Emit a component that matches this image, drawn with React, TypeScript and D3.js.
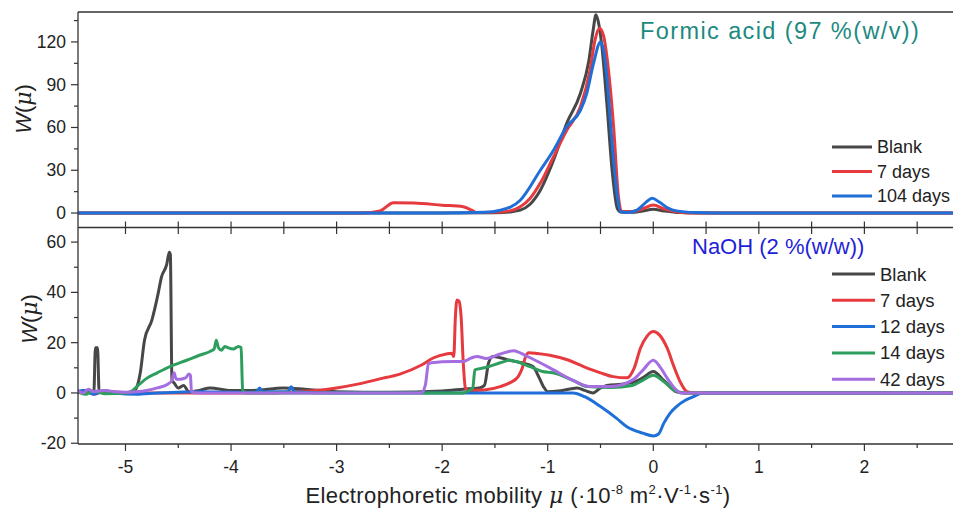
import React from "react";
import * as d3 from "d3";

type Pt = [number, number];

// ---------- Top panel: Formic acid (97 %(w/v)) ----------
const topBlank: Pt[] = [
  [-5.45, 0], [-2.0, 0], [-1.5, 0.2], [-1.36, 0.8], [-1.26, 2], [-1.17, 6], [-1.07, 16], [-0.945, 37],
  [-0.82, 63], [-0.69, 84], [-0.61, 107], [-0.57, 128], [-0.543, 139], [-0.515, 132], [-0.49, 119],
  [-0.44, 77], [-0.39, 30], [-0.34, 3], [-0.3, 0.5], [-0.2, 0.5], [-0.1, 1.5], [0, 2.6], [0.1, 1.5],
  [0.25, 0.3], [0.4, 0], [2.83, 0],
];
const topD7: Pt[] = [
  [-5.45, 0], [-2.75, 0], [-2.59, 1.5], [-2.46, 7.2], [-2.27, 7], [-2.0, 5.5], [-1.8, 4.4], [-1.72, 2],
  [-1.67, 0.3], [-1.5, 0.5], [-1.36, 1.5], [-1.26, 4.4], [-1.17, 10], [-1.07, 21], [-0.945, 39.5],
  [-0.82, 58], [-0.69, 74.6], [-0.6, 100], [-0.55, 122], [-0.51, 129.6], [-0.47, 124], [-0.44, 110],
  [-0.376, 60.6], [-0.33, 11.5], [-0.3, 1], [-0.2, 1], [-0.1, 3], [0, 5.6], [0.1, 3], [0.25, 0.6],
  [0.4, 0], [2.83, 0],
];
const topD104: Pt[] = [
  [-5.45, 0], [-2.0, 0], [-1.6, 0.5], [-1.45, 2], [-1.26, 9], [-1.07, 30], [-0.945, 44], [-0.82, 60.6],
  [-0.69, 72], [-0.63, 84], [-0.566, 105], [-0.5, 120], [-0.47, 114], [-0.44, 95.7], [-0.39, 49],
  [-0.34, 11.5], [-0.31, 1], [-0.25, 0.3], [-0.155, 2], [-0.07, 7.5], [-0.01, 10.3], [0.06, 7.5],
  [0.14, 3.5], [0.22, 1.5], [0.4, 0.3], [0.6, 0], [2.83, 0],
];

// ---------- Bottom panel: NaOH (2 %(w/w)) ----------
const botBlank: Pt[] = [
  [-5.45, 0.5], [-5.38, 1], [-5.3, 0.3], [-5.285, 18], [-5.265, 18], [-5.25, 0.5], [-5.1, 0.3],
  [-4.95, 0.2], [-4.91, 1], [-4.86, 8], [-4.82, 21], [-4.75, 29], [-4.69, 39.7], [-4.66, 46],
  [-4.61, 51], [-4.585, 56], [-4.575, 55], [-4.56, 5], [-4.54, 4], [-4.5, 2], [-4.45, 3], [-4.4, 0.5],
  [-4.3, 1], [-4.2, 2], [-4.0, 1], [-3.8, 1], [-3.5, 2], [-3.3, 1.5], [-3.0, 0.5], [-2.5, 0.3],
  [-2.0, 0.8], [-1.8, 1.5], [-1.65, 2], [-1.6, 3], [-1.56, 12], [-1.52, 14.5], [-1.45, 14],
  [-1.36, 13], [-1.25, 12], [-1.14, 10.5], [-1.08, 6], [-1.04, 2.5], [-1.0, 0.5], [-0.9, 0.8],
  [-0.8, 1.5], [-0.72, 2], [-0.65, 1], [-0.57, 0], [-0.5, 2], [-0.44, 3], [-0.3, 3.5], [-0.19, 4.2],
  [-0.1, 6], [0, 8.5], [0.1, 5], [0.22, 0.5], [0.3, 0], [2.83, 0],
];
const botD7: Pt[] = [
  [-5.45, 0], [-5.38, 1], [-5.3, -0.5], [-5.2, 0.5], [-5.0, 0], [-3.6, 0], [-3.4, 0.5], [-3.2, 1],
  [-3.0, 2], [-2.8, 3.5], [-2.6, 5.5], [-2.4, 7.5], [-2.2, 11], [-2.08, 14], [-1.96, 15.5],
  [-1.91, 15.8], [-1.89, 14.5], [-1.875, 30], [-1.86, 37], [-1.84, 36.5], [-1.82, 30], [-1.8, 12],
  [-1.78, 2], [-1.75, 1], [-1.6, 1.2], [-1.45, 2.5], [-1.36, 4], [-1.28, 6.5], [-1.24, 10],
  [-1.21, 14.4], [-1.18, 16], [-1.1, 15.7], [-0.98, 15], [-0.8, 13], [-0.66, 10.5], [-0.5, 8],
  [-0.38, 6.5], [-0.25, 6], [-0.18, 10], [-0.12, 18], [-0.06, 22.5], [0, 24.4], [0.06, 23],
  [0.13, 18], [0.2, 10], [0.26, 4], [0.32, 0.5], [0.4, 0], [2.83, 0],
];
const botD12: Pt[] = [
  [-5.45, 0.5], [-5.4, 1], [-5.3, -0.5], [-5.2, 1], [-5.1, 0], [-4.9, -0.5], [-4.7, 0], [-4.5, 0.3],
  [-4.3, 0.5], [-4.0, 0.3], [-3.76, 0.3], [-3.73, 2], [-3.7, 0.5], [-3.46, 0.5], [-3.43, 2.5],
  [-3.4, 0.5], [-3.0, 0], [-0.76, 0], [-0.65, -1.5], [-0.5, -5.4], [-0.35, -10], [-0.25, -13.4],
  [-0.1, -16], [0, -17.1], [0.05, -16.3], [0.1, -12], [0.16, -8], [0.22, -5.4], [0.3, -3],
  [0.38, -1.5], [0.47, 0], [2.83, 0],
];
const botD14: Pt[] = [
  [-5.45, 0.5], [-5.38, -0.5], [-5.3, 0.8], [-5.2, -0.3], [-5.0, 0], [-4.95, 0.5], [-4.88, 3],
  [-4.8, 5.8], [-4.7, 8], [-4.58, 10.5], [-4.42, 13], [-4.3, 15], [-4.2, 16.5], [-4.16, 17.5],
  [-4.14, 21], [-4.12, 18], [-4.09, 17], [-4.06, 18.5], [-4.03, 18], [-3.98, 17.5], [-3.93, 18.5],
  [-3.905, 18], [-3.89, 1], [-3.85, 0], [-1.8, 0], [-1.75, 0.8], [-1.71, 2], [-1.69, 9.2],
  [-1.6, 10], [-1.45, 12], [-1.36, 13], [-1.3, 12.5], [-1.2, 11], [-1.14, 10], [-1.05, 8.5],
  [-0.95, 8], [-0.76, 5], [-0.63, 2.6], [-0.4, 2.2], [-0.2, 3], [-0.1, 5], [0, 7], [0.1, 4.5],
  [0.2, 1], [0.3, 0], [2.83, 0],
];
const botD42: Pt[] = [
  [-5.45, 1], [-5.4, 0], [-5.35, 1.5], [-5.3, 0.5], [-5.2, 1], [-5.1, 0.5], [-5.0, 0.3], [-4.9, 0.5],
  [-4.8, 1], [-4.7, 2], [-4.6, 3.5], [-4.56, 5], [-4.54, 8], [-4.52, 5.5], [-4.48, 5.5], [-4.43, 6],
  [-4.4, 7.5], [-4.385, 7], [-4.375, 0.5], [-4.3, 0], [-2.2, 0], [-2.16, 3], [-2.13, 11.5],
  [-2.1, 12], [-1.9, 12.5], [-1.8, 12.5], [-1.72, 14], [-1.67, 14.5], [-1.58, 13.7], [-1.45, 15.5],
  [-1.32, 16.8], [-1.25, 15.7], [-1.2, 14.7], [-0.98, 10], [-0.76, 5], [-0.6, 2.6], [-0.4, 2.6],
  [-0.19, 5.3], [-0.1, 9], [0, 13], [0.07, 10], [0.13, 6], [0.2, 2], [0.26, 0], [2.83, 0],
];

const topSeries = [
  { name: "Blank", color: "#474747", data: topBlank },
  { name: "7 days", color: "#e63a3f", data: topD7 },
  { name: "104 days", color: "#1f6fd8", data: topD104 },
];
const botSeries = [
  { name: "Blank", color: "#474747", data: botBlank },
  { name: "7 days", color: "#e63a3f", data: botD7 },
  { name: "12 days", color: "#1f6fd8", data: botD12 },
  { name: "14 days", color: "#2d9e5e", data: botD14 },
  { name: "42 days", color: "#a46de0", data: botD42 },
];

const xMajor = [-5, -4, -3, -2, -1, 0, 1, 2];
const xMinor = [-4.5, -3.5, -2.5, -1.5, -0.5, 0.5, 1.5, 2.5];
const topYMajor = [0, 30, 60, 90, 120];
const topYMinor = [15, 45, 75, 105, 135];
const botYMajor = [-20, 0, 20, 40, 60];
const botYMinor = [-10, 10, 30, 50];

const W = 953;
const H = 515;
const L = 78;
const R = 952;
const topT = 12;
const mid = 228;
const botB = 444;

const font = "'Liberation Sans', Arial, sans-serif";
const axisColor = "#333";

export default function App() {
  const x = d3.scaleLinear().domain([-5.45, 2.83]).range([L, R]);
  const yT = d3.scaleLinear().domain([-10.5, 141]).range([mid, topT]);
  const yB = d3.scaleLinear().domain([-20.3, 66]).range([botB, mid - 1]);

  const lineT = d3.line<Pt>().x((d) => x(d[0])).y((d) => yT(d[1])).curve(d3.curveMonotoneX);
  const lineB = d3.line<Pt>().x((d) => x(d[0])).y((d) => yB(d[1])).curve(d3.curveMonotoneX);

  const allX = [...xMajor, ...xMinor];

  return (
    <svg width={W} height={H} style={{ position: "absolute", left: 0, top: 0, background: "#fff" }}
      fontFamily={font}>
      <defs>
        <clipPath id="clipT"><rect x={L} y={topT} width={R - L + 2} height={mid - topT} /></clipPath>
        <clipPath id="clipB"><rect x={L} y={mid} width={R - L + 2} height={botB - mid} /></clipPath>
      </defs>
      <rect x={0} y={0} width={W} height={H} fill="#fff" />

      {/* series */}
      <g clipPath="url(#clipT)">
        {topSeries.map((s) => (
          <path key={s.name} d={lineT(s.data) || ""} fill="none" stroke={s.color} strokeWidth={3}
            strokeLinejoin="round" strokeLinecap="round" />
        ))}
      </g>
      <g clipPath="url(#clipB)">
        {botSeries.map((s) => (
          <path key={s.name} d={lineB(s.data) || ""} fill="none" stroke={s.color} strokeWidth={3}
            strokeLinejoin="round" strokeLinecap="round" />
        ))}
      </g>

      {/* frame lines */}
      <line x1={L} x2={R + 1} y1={topT} y2={topT} stroke={axisColor} strokeWidth={1.3} />
      <line x1={L} x2={R + 1} y1={mid - 0.5} y2={mid - 0.5} stroke={axisColor} strokeWidth={1.3} />
      <line x1={L} x2={R + 1} y1={botB} y2={botB} stroke={axisColor} strokeWidth={1.3} />
      <line x1={L} x2={L} y1={topT} y2={botB} stroke={axisColor} strokeWidth={1.3} />

      {/* inward ticks at the shared line */}
      {allX.map((v) => (
        <g key={"m" + v}>
          <line x1={x(v)} x2={x(v)} y1={mid - 0.5} y2={mid - 6.5} stroke={axisColor} strokeWidth={1.2} />
          <line x1={x(v)} x2={x(v)} y1={mid - 0.5} y2={mid + 6} stroke={axisColor} strokeWidth={1.2} />
        </g>
      ))}

      {/* bottom x axis */}
      {xMajor.map((v) => (
        <g key={"xb" + v}>
          <line x1={x(v)} x2={x(v)} y1={botB} y2={botB + 7} stroke={axisColor} strokeWidth={1.2} />
          <text x={x(v)} y={botB + 29} textAnchor="middle" fontSize={17.5} fill="#222">{v}</text>
        </g>
      ))}
      {xMinor.map((v) => (
        <line key={"xbm" + v} x1={x(v)} x2={x(v)} y1={botB} y2={botB + 4} stroke={axisColor} strokeWidth={1.2} />
      ))}

      {/* top y axis */}
      {topYMajor.map((v) => (
        <g key={"yt" + v}>
          <line x1={L - 7} x2={L} y1={yT(v)} y2={yT(v)} stroke={axisColor} strokeWidth={1.2} />
          <text x={L - 12} y={yT(v) + 6} textAnchor="end" fontSize={17.5} fill="#222">{v}</text>
        </g>
      ))}
      {topYMinor.map((v) => (
        <line key={"ytm" + v} x1={L - 4} x2={L} y1={yT(v)} y2={yT(v)} stroke={axisColor} strokeWidth={1.2} />
      ))}

      {/* bottom y axis */}
      {botYMajor.map((v) => (
        <g key={"yb" + v}>
          <line x1={L - 7} x2={L} y1={yB(v)} y2={yB(v)} stroke={axisColor} strokeWidth={1.2} />
          <text x={L - 12} y={yB(v) + 6} textAnchor="end" fontSize={17.5} fill="#222">{v}</text>
        </g>
      ))}
      {botYMinor.map((v) => (
        <line key={"ybm" + v} x1={L - 4} x2={L} y1={yB(v)} y2={yB(v)} stroke={axisColor} strokeWidth={1.2} />
      ))}

      {/* y labels */}
      <text transform="translate(31,109) rotate(-90)" textAnchor="middle" fontSize={22} fill="#222">
        <tspan fontStyle="italic">W</tspan>(<tspan fontStyle="italic" fontFamily="'DejaVu Serif', serif">μ</tspan>)
      </text>
      <text transform="translate(37,319) rotate(-90)" textAnchor="middle" fontSize={22} fill="#222">
        <tspan fontStyle="italic">W</tspan>(<tspan fontStyle="italic" fontFamily="'DejaVu Serif', serif">μ</tspan>)
      </text>

      {/* x title */}
      <text x={518} y={503} textAnchor="middle" fontSize={22} letterSpacing={0.4} fill="#222">
        Electrophoretic mobility{" "}
        <tspan fontStyle="italic" fontFamily="'DejaVu Serif', serif">μ</tspan> (·10
        <tspan fontSize={13} dy={-9}>-8</tspan>
        <tspan dy={9}> m</tspan>
        <tspan fontSize={13} dy={-9}>2</tspan>
        <tspan dy={9}>·V</tspan>
        <tspan fontSize={13} dy={-9}>-1</tspan>
        <tspan dy={9}>·s</tspan>
        <tspan fontSize={13} dy={-9}>-1</tspan>
        <tspan dy={9}>)</tspan>
      </text>

      {/* panel titles */}
      <text x={640} y={39} fontSize={23.5} letterSpacing={1.4} fill="#1d8a80">Formic acid (97 %(w/v))</text>
      <text x={692} y={254} fontSize={22} fill="#1f1fd8">NaOH (2 %(w/w))</text>

      {/* legends */}
      {topSeries.map((s, i) => {
        const cy = 147 + i * 24.5;
        return (
          <g key={"lt" + s.name}>
            <line x1={832} x2={872} y1={cy} y2={cy} stroke={s.color} strokeWidth={3} />
            <text x={877} y={cy + 6} fontSize={18} fill="#222">{s.name}</text>
          </g>
        );
      })}
      {botSeries.map((s, i) => {
        const cy = 274 + i * 26.3;
        return (
          <g key={"lb" + s.name}>
            <line x1={832} x2={875} y1={cy} y2={cy} stroke={s.color} strokeWidth={3} />
            <text x={880} y={cy + 6.5} fontSize={18.5} fill="#222">{s.name}</text>
          </g>
        );
      })}
    </svg>
  );
}
